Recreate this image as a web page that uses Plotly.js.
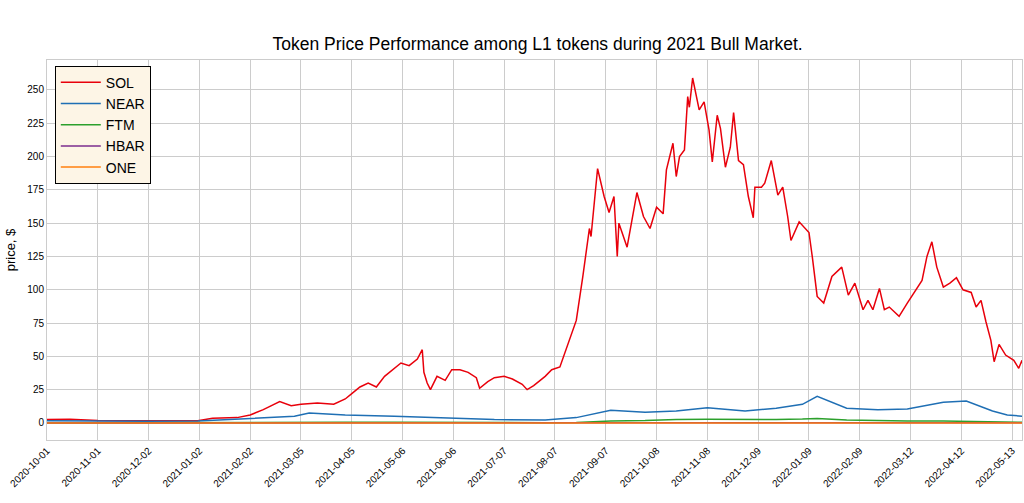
<!DOCTYPE html>
<html>
<head>
<meta charset="utf-8">
<script src="https://cdn.plot.ly/plotly-3.0.1.min.js"></script>
<style>body{margin:0;background:#fff}#chart{width:1024px;height:503px}</style>
</head>
<body>
<div id="chart"></div>
<script>
var solDates = ['2020-10-01','2020-10-15','2020-11-01','2020-11-15','2020-12-01','2020-12-15','2021-01-01','2021-01-10','2021-01-25','2021-02-02','2021-02-10','2021-02-20','2021-02-27','2021-03-05','2021-03-15','2021-03-25','2021-04-01','2021-04-05','2021-04-10','2021-04-15','2021-04-20','2021-04-25','2021-04-30','2021-05-05','2021-05-10','2021-05-15','2021-05-18','2021-05-19','2021-05-21','2021-05-23','2021-05-27','2021-06-01','2021-06-05','2021-06-10','2021-06-15','2021-06-20','2021-06-22','2021-06-27','2021-07-01','2021-07-07','2021-07-12','2021-07-18','2021-07-21','2021-07-25','2021-08-01','2021-08-05','2021-08-10','2021-08-15','2021-08-20','2021-08-24','2021-08-28','2021-08-29','2021-08-31','2021-09-02','2021-09-06','2021-09-09','2021-09-12','2021-09-14','2021-09-15','2021-09-20','2021-09-26','2021-09-30','2021-10-04','2021-10-08','2021-10-12','2021-10-14','2021-10-18','2021-10-20','2021-10-22','2021-10-25','2021-10-27','2021-10-28','2021-10-30','2021-11-03','2021-11-06','2021-11-09','2021-11-11','2021-11-14','2021-11-16','2021-11-19','2021-11-22','2021-11-24','2021-11-27','2021-11-30','2021-12-03','2021-12-06','2021-12-07','2021-12-11','2021-12-13','2021-12-17','2021-12-21','2021-12-24','2021-12-27','2021-12-29','2022-01-03','2022-01-09','2022-01-11','2022-01-14','2022-01-18','2022-01-23','2022-01-29','2022-02-02','2022-02-06','2022-02-11','2022-02-14','2022-02-17','2022-02-21','2022-02-24','2022-02-27','2022-03-05','2022-03-10','2022-03-15','2022-03-19','2022-03-22','2022-03-25','2022-03-28','2022-04-01','2022-04-05','2022-04-09','2022-04-13','2022-04-18','2022-04-21','2022-04-24','2022-04-27','2022-04-30','2022-05-02','2022-05-05','2022-05-09','2022-05-14','2022-05-17','2022-05-19','2022-05-20'];
var solPrice = [2.5,2.8,1.8,1.7,2,1.9,1.7,3.5,4,6,10,16,13,14,15,14,18,22,27,30,27,35,40,45,43,48,55,38,30,25,35,32,40,40,38,34,26,31,34,35,33,29,25,28,35,40,42,60,77,110,146,140,165,191,170,158,170,125,150,132,173,155,146,162,157,190,210,185,200,205,245,237,259,235,241,220,196,231,221,192,207,233,197,194,170,154,177,177,180,197,171,177,155,137,151,143,125,95,90,110,117,96,105,85,92,85,101,85,87,80,90,100,107,125,136,117,102,105,109,100,98,87,92,76,62,46,59,51,47,41,47,41];

var weekDates = ['2020-10-01','2020-11-01','2020-12-01','2021-01-01','2021-02-01','2021-03-01','2021-03-10','2021-04-01','2021-05-01','2021-06-01','2021-07-01','2021-08-01','2021-08-20','2021-09-10','2021-10-01','2021-10-20','2021-11-08','2021-12-01','2021-12-20','2022-01-05','2022-01-14','2022-02-01','2022-02-20','2022-03-10','2022-04-01','2022-04-15','2022-05-01','2022-05-10','2022-05-20'];
var nearPrice = [1.6,1.2,1.3,1.4,3.5,5,7.5,6,5,3.5,2.5,2.2,4,9.5,8,9,11.5,9,11,14,20,11,10,10.5,15.5,16.5,9,6,5];
var ftmPrice = [0.03,0.03,0.03,0.04,0.3,0.4,0.5,0.5,0.6,0.3,0.2,0.2,0.4,1.5,1.8,2.6,2.8,2.4,2.6,2.9,3.4,2.2,1.8,1.4,1.5,1.3,0.8,0.6,0.5];
var hbarPrice = [0.04,0.04,0.04,0.04,0.06,0.3,0.4,0.3,0.4,0.25,0.2,0.2,0.3,0.4,0.35,0.4,0.45,0.35,0.3,0.3,0.3,0.22,0.24,0.2,0.24,0.23,0.16,0.12,0.1];
var onePrice = [0.006,0.006,0.005,0.006,0.02,0.05,0.1,0.15,0.18,0.1,0.08,0.07,0.1,0.15,0.2,0.28,0.33,0.3,0.25,0.22,0.25,0.18,0.14,0.12,0.15,0.14,0.09,0.06,0.05];

var tickDates = ['2020-10-01','2020-11-01','2020-12-02','2021-01-02','2021-02-02','2021-03-05','2021-04-05','2021-05-06','2021-06-06','2021-07-07','2021-08-07','2021-09-07','2021-10-08','2021-11-08','2021-12-09','2022-01-09','2022-02-09','2022-03-12','2022-04-12','2022-05-13'];

function line(name, x, y, color) {
  return {x: x, y: y, name: name, type: 'scatter', mode: 'lines', line: {color: color, width: 1.5}};
}

var data = [
  line('SOL', solDates, solPrice, '#e8000b'),
  line('NEAR', weekDates, nearPrice, '#1f6fb4'),
  line('FTM', weekDates, ftmPrice, '#2ca02c'),
  line('HBAR', weekDates, hbarPrice, '#7b2d8e'),
  line('ONE', weekDates, onePrice, '#ff7f0e')
];

var layout = {
  width: 1024, height: 503,
  margin: {l: 47, r: 2, t: 60, b: 63},
  paper_bgcolor: '#fff', plot_bgcolor: '#fff',
  font: {family: 'Liberation Sans, Arial, sans-serif', color: '#000'},
  title: {text: 'Token Price Performance among L1 tokens during 2021 Bull Market.', font: {size: 17.5}, x: 0.525, y: 0.9, yanchor: 'bottom'},
  xaxis: {
    type: 'date', range: ['2020-10-01', '2022-05-19'],
    tickvals: tickDates, ticktext: tickDates, tickangle: -45,
    tickfont: {size: 10}, gridcolor: '#cccccc', showline: true, mirror: true, linecolor: '#cccccc', zeroline: false
  },
  yaxis: {
    range: [-12.8, 272.5], tickvals: [0,25,50,75,100,125,150,175,200,225,250],
    tickfont: {size: 10}, gridcolor: '#cccccc', showline: true, mirror: true, linecolor: '#cccccc', zeroline: false,
    title: {text: 'price, $', font: {size: 13}, standoff: 8}
  },
  showlegend: true,
  legend: {x: 0.008, y: 0.985, bgcolor: '#fdf5e6', bordercolor: '#000', borderwidth: 1, font: {size: 14}, itemwidth: 40, tracegroupgap: 4}
};

Plotly.newPlot('chart', data, layout, {displayModeBar: false});
</script>
</body>
</html>
